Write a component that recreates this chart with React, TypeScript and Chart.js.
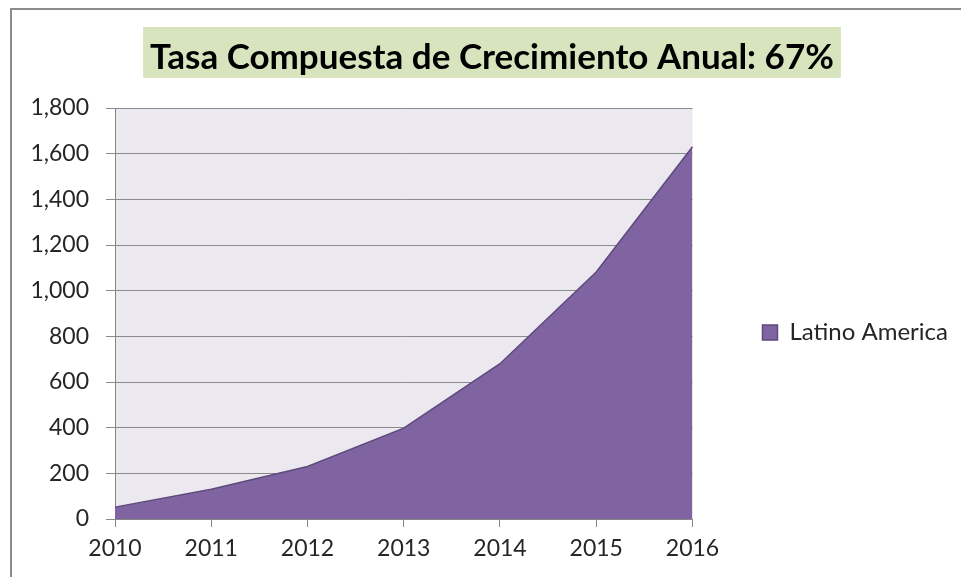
import { useEffect, useRef } from "react";
import { Chart, registerables } from "chart.js";

Chart.register(...registerables);

const years = ["2010", "2011", "2012", "2013", "2014", "2015", "2016"];
const latinoAmerica = [52, 130, 230, 398, 680, 1082, 1630];
const seriesName = "Latino America";
const chartTitle = "Tasa Compuesta de Crecimiento Anual: 67%";
const yMin = 0;
const yMax = 1800;
const yStep = 200;

const FONT = "Lato, 'Open Sans', sans-serif";

const decorPlugin = {
  id: "decor",
  afterLayout(chart: any) {
    const l = chart.legend;
    if (l) {
      const w = l.right - l.left;
      l.left = chart.chartArea.right + 60;
      l.right = l.left + w;
      l.top += 44;
      l.bottom += 44;
    }
    const tb = chart.titleBlock;
    if (tb) {
      const dx = 492 - (tb.left + tb.right) / 2;
      tb.left += dx;
      tb.right += dx;
    }
  },
  beforeDraw(chart: any) {
    const { ctx, chartArea } = chart;
    ctx.save();
    // plot background
    ctx.fillStyle = "#ebe9ef";
    ctx.fillRect(chartArea.left, chartArea.top, chartArea.right - chartArea.left, chartArea.bottom - chartArea.top);
    // title box
    const tb = chart.titleBlock;
    if (tb) {
      const opts = chart.options.plugins.title;
      ctx.font = `bold ${opts.font.size}px ${FONT}`;
      const w = ctx.measureText(chartTitle).width;
      const cx = (tb.left + tb.right) / 2;
      ctx.fillStyle = "#d7e4bd";
      ctx.fillRect(cx - w / 2 - 7, 27, w + 14, 51);
    }
    ctx.restore();
  },
  afterDraw(chart: any) {
    const { ctx } = chart;
    ctx.save();
    ctx.strokeStyle = "#8c8c8c";
    ctx.lineWidth = 2;
    ctx.beginPath();
    ctx.moveTo(11, 577);
    ctx.lineTo(11, 9);
    ctx.lineTo(961, 9);
    ctx.stroke();
    ctx.restore();
  },
};

export default function App() {
  const ref = useRef<HTMLCanvasElement>(null);
  useEffect(() => {
    if (!ref.current) return;
    const chart = new Chart(ref.current, {
      type: "line",
      data: {
        labels: years,
        datasets: [
          {
            label: seriesName,
            data: latinoAmerica,
            fill: "origin",
            backgroundColor: "#8064a2",
            borderColor: "#5f4a7d",
            borderWidth: 1.5,
            pointRadius: 0,
            tension: 0,
          },
        ],
      },
      options: {
        responsive: false,
        animation: false,
        layout: { padding: { left: 26, right: 63, top: 0, bottom: 0 } },
        plugins: {
          title: {
            display: true,
            text: chartTitle,
            color: "#000000",
            font: { family: FONT, size: 35, weight: "bold", lineHeight: 1.2 },
            padding: { top: 37, bottom: 29 },
          },
          legend: {
            position: "right",
            labels: {
              color: "#262626",
              font: { family: FONT, size: 24 },
              boxWidth: 15,
              boxHeight: 15,
              padding: 10,
            },
          },
          tooltip: { enabled: false },
        },
        scales: {
          x: {
            grid: {
              display: true,
              drawOnChartArea: false,
              drawTicks: true,
              tickLength: 8,
              color: "#868686",
            },
            border: { display: true, color: "#868686" },
            ticks: {
              color: "#262626",
              font: { family: FONT, size: 23 },
              padding: 8,
              maxRotation: 0,
            },
            afterFit: (scale: any) => {
              scale.height = 58;
            },
          },
          y: {
            min: yMin,
            max: yMax,
            grid: {
              color: "#8a8a8a",
              drawTicks: true,
              tickLength: 9,
            },
            border: { display: true, color: "#868686" },
            ticks: {
              stepSize: yStep,
              color: "#262626",
              font: { family: FONT, size: 23 },
              padding: 17,
              callback: (v: any) => Number(v).toLocaleString("en-US"),
            },
            afterFit: (scale: any) => {
              scale.width = 89;
            },
          },
        },
      },
      plugins: [decorPlugin],
    });
    return () => chart.destroy();
  }, []);
  return (
    <div style={{ position: "fixed", left: 0, top: 0, width: 961, height: 577, background: "#ffffff" }}>
      <canvas ref={ref} width={961} height={577} style={{ display: "block" }} />
    </div>
  );
}
